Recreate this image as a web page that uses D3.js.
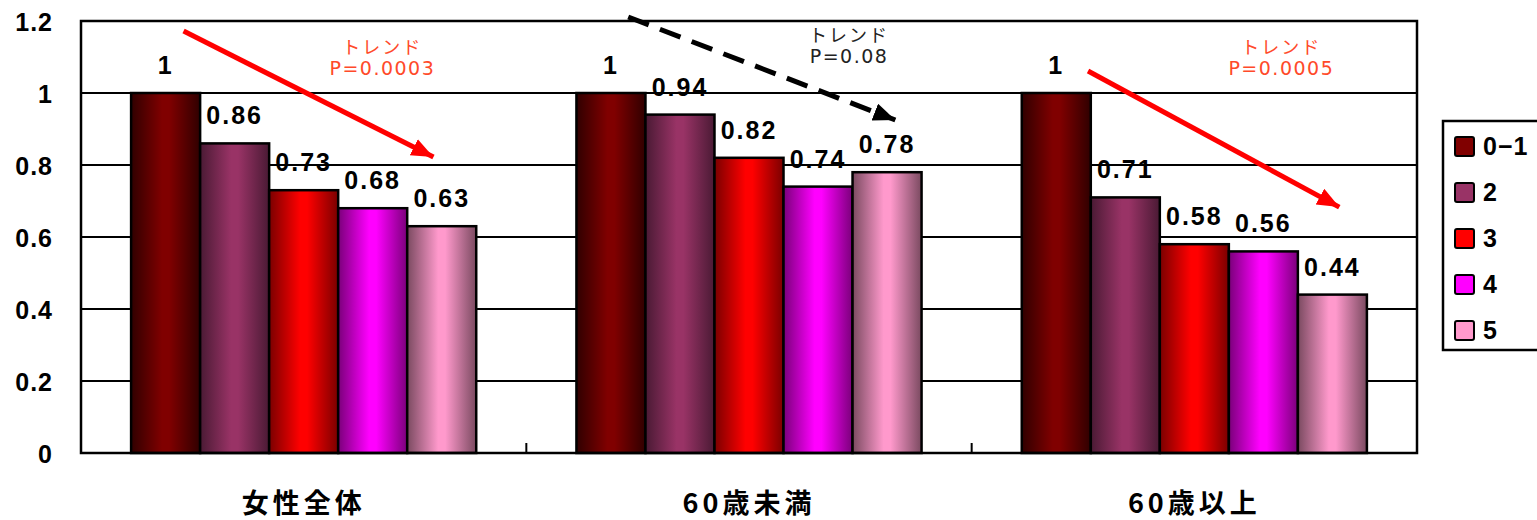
<!DOCTYPE html>
<html>
<head>
<meta charset="utf-8">
<script src="https://cdn.jsdelivr.net/npm/d3@7"></script>
<style>
  body { margin: 0; background: #fff; }
  svg { display: block; }
</style>
</head>
<body>
<div id="chart"></div>
<script>
const groups = ["女性全体", "60歳未満", "60歳以上"];
const series = ["0−1", "2", "3", "4", "5"];
const values = [
  [1, 0.86, 0.73, 0.68, 0.63],
  [1, 0.94, 0.82, 0.74, 0.78],
  [1, 0.71, 0.58, 0.56, 0.44]
];
const yTicks = [0, 0.2, 0.4, 0.6, 0.8, 1, 1.2];
const yTickLabels = ["0", "0.2", "0.4", "0.6", "0.8", "1", "1.2"];
const colors = ["#800000", "#993366", "#ff0000", "#ff00ff", "#ff99cc"];
const edgeColors = ["#300000", "#4a1a34", "#7a0000", "#7a007a", "#7a4a60"];

// trend annotations: positions in (group, fractional bar index, value)
const trendGroups = [0, 1, 2];
const trendStart = [[0.26, 1.172], [0.25, 1.211], [0.46, 1.061]];
const trendEnd = [[3.88, 0.822], [4.12, 0.925], [4.1, 0.683]];
const trendTextPos = [[3.14, 1.108], [3.45, 1.142], [3.26, 1.108]];
const trendTitle = ["トレンド", "トレンド", "トレンド"];
const trendP = ["P=0.0003", "P=0.08", "P=0.0005"];
const trendDashed = [false, true, false];

const W = 1537, H = 520;
const plot = { left: 81, right: 1417, top: 21, bottom: 453 };

const svg = d3.select("#chart").append("svg")
  .attr("width", W).attr("height", H);

const defs = svg.append("defs");
colors.forEach((c, i) => {
  const g = defs.append("linearGradient")
    .attr("id", "grad" + i)
    .attr("x1", "0%").attr("x2", "100%").attr("y1", "0%").attr("y2", "0%");
  g.append("stop").attr("offset", "0%").attr("stop-color", edgeColors[i]);
  g.append("stop").attr("offset", "45%").attr("stop-color", c);
  g.append("stop").attr("offset", "55%").attr("stop-color", c);
  g.append("stop").attr("offset", "100%").attr("stop-color", edgeColors[i]);
});

["red", "black"].forEach(c => {
  defs.append("marker")
    .attr("id", "head-" + c)
    .attr("markerUnits", "userSpaceOnUse")
    .attr("markerWidth", 26).attr("markerHeight", 22)
    .attr("refX", 22).attr("refY", 9)
    .attr("orient", "auto")
    .append("path")
    .attr("d", "M0,0 L22,9 L0,18 Z")
    .attr("fill", c === "red" ? "#ff0000" : "#000");
});

const x0 = d3.scaleBand()
  .domain(groups)
  .range([plot.left, plot.right])
  .paddingInner(0.225)
  .paddingOuter(0.1125);

const x1 = d3.scaleBand()
  .domain(series)
  .range([0, x0.bandwidth()]);

const y = d3.scaleLinear().domain([0, 1.2]).range([plot.bottom, plot.top]);

// plot background and gridlines
svg.append("rect")
  .attr("x", plot.left).attr("y", plot.top)
  .attr("width", plot.right - plot.left).attr("height", plot.bottom - plot.top)
  .attr("fill", "#fff");

svg.append("g")
  .selectAll("line")
  .data(yTicks.filter(d => d > 0 && d < 1.2))
  .enter()
  .append("line")
  .attr("x1", plot.left).attr("x2", plot.right)
  .attr("y1", d => y(d)).attr("y2", d => y(d))
  .attr("stroke", "#000")
  .attr("stroke-width", 2);

// y tick labels
svg.append("g")
  .selectAll("text")
  .data(yTicks)
  .enter()
  .append("text")
  .attr("x", 53)
  .attr("y", d => y(d) + 3)
  .attr("text-anchor", "end")
  .attr("dominant-baseline", "middle")
  .attr("font-family", "Liberation Sans, Arial, sans-serif")
  .attr("font-weight", "bold")
  .attr("font-size", 25)
  .attr("letter-spacing", 1)
  .text((d, i) => yTickLabels[i]);

// bars
const barGroups = svg.append("g")
  .selectAll("g")
  .data(groups)
  .enter()
  .append("g")
  .attr("transform", d => `translate(${x0(d)},0)`);

barGroups.selectAll("rect")
  .data((g, gi) => values[gi].map((v, i) => ({ s: series[i], v, i })))
  .enter()
  .append("rect")
  .attr("x", d => x1(d.s))
  .attr("y", d => y(d.v))
  .attr("width", x1.bandwidth())
  .attr("height", d => y(0) - y(d.v))
  .attr("fill", d => `url(#grad${d.i})`)
  .attr("stroke", "#000")
  .attr("stroke-width", 2.5);

barGroups.selectAll("text")
  .data((g, gi) => values[gi].map((v, i) => ({ s: series[i], v, i })))
  .enter()
  .append("text")
  .attr("x", d => x1(d.s) + x1.bandwidth() / 2)
  .attr("y", d => y(d.v) - 19)
  .attr("text-anchor", "middle")
  .attr("font-family", "Liberation Sans, Arial, sans-serif")
  .attr("font-weight", "bold")
  .attr("font-size", 25)
  .attr("letter-spacing", 2)
  .text(d => d.v);

// plot border
svg.append("rect")
  .attr("x", plot.left).attr("y", plot.top)
  .attr("width", plot.right - plot.left).attr("height", plot.bottom - plot.top)
  .attr("fill", "none")
  .attr("stroke", "#000")
  .attr("stroke-width", 2.5);

// category tick marks at group boundaries
const halfGap = x0.step() * x0.paddingInner() / 2;
svg.append("g")
  .selectAll("line")
  .data(groups.slice(1))
  .enter()
  .append("line")
  .attr("x1", d => x0(d) - halfGap).attr("x2", d => x0(d) - halfGap)
  .attr("y1", plot.bottom).attr("y2", plot.bottom - 10)
  .attr("stroke", "#000")
  .attr("stroke-width", 2);

// category labels
svg.append("g")
  .selectAll("text")
  .data(groups)
  .enter()
  .append("text")
  .attr("x", d => x0(d) + x0.bandwidth() / 2)
  .attr("y", 513)
  .attr("text-anchor", "middle")
  .attr("font-family", "Noto Sans CJK JP, sans-serif")
  .attr("font-weight", "bold")
  .attr("font-size", 27)
  .attr("letter-spacing", 4)
  .text(d => d);

// trend arrows
const px = (g, idx) => x0(groups[g]) + (idx + 0.5) * x1.step();
const trends = svg.append("g");
trendGroups.forEach((g, k) => {
  const col = trendDashed[k] ? "#000" : "#ff0000";
  trends.append("line")
    .attr("x1", px(g, trendStart[k][0]))
    .attr("y1", y(trendStart[k][1]))
    .attr("x2", px(g, trendEnd[k][0]))
    .attr("y2", y(trendEnd[k][1]))
    .attr("stroke", col)
    .attr("stroke-width", 5)
    .attr("stroke-dasharray", trendDashed[k] ? "22 12" : null)
    .attr("marker-end", `url(#head-${trendDashed[k] ? "black" : "red"})`);

  const tcol = trendDashed[k] ? "#222" : "#ff4a2a";
  const tx = px(g, trendTextPos[k][0]);
  const ty = y(trendTextPos[k][1]);
  trends.append("text")
    .attr("x", tx).attr("y", ty)
    .attr("text-anchor", "middle")
    .attr("font-family", "Noto Sans CJK JP, sans-serif")
    .attr("font-size", 18)
    .attr("letter-spacing", 2)
    .attr("fill", tcol)
    .text(trendTitle[k]);
  trends.append("text")
    .attr("x", tx).attr("y", ty + 21)
    .attr("text-anchor", "middle")
    .attr("font-family", "DejaVu Sans, sans-serif")
    .attr("font-size", 19)
    .attr("letter-spacing", 1.5)
    .attr("fill", tcol)
    .text(trendP[k]);
});

// legend
const legend = svg.append("g").attr("transform", "translate(1443,121)");
legend.append("rect")
  .attr("x", 0).attr("y", 0)
  .attr("width", 120).attr("height", 229)
  .attr("fill", "#fff")
  .attr("stroke", "#000")
  .attr("stroke-width", 2.5);

const item = legend.selectAll("g.item")
  .data(series)
  .enter()
  .append("g")
  .attr("class", "item")
  .attr("transform", (d, i) => `translate(12,${25 + i * 46})`);

item.append("rect")
  .attr("x", 0).attr("y", -9)
  .attr("width", 19).attr("height", 19)
  .attr("rx", 2)
  .attr("fill", (d, i) => colors[i])
  .attr("stroke", "#000")
  .attr("stroke-width", 2);

item.append("text")
  .attr("x", 28).attr("y", 2)
  .attr("dominant-baseline", "middle")
  .attr("font-family", "Liberation Sans, Arial, sans-serif")
  .attr("font-weight", "bold")
  .attr("font-size", 25)
  .attr("letter-spacing", 1)
  .text(d => d);
</script>
</body>
</html>
